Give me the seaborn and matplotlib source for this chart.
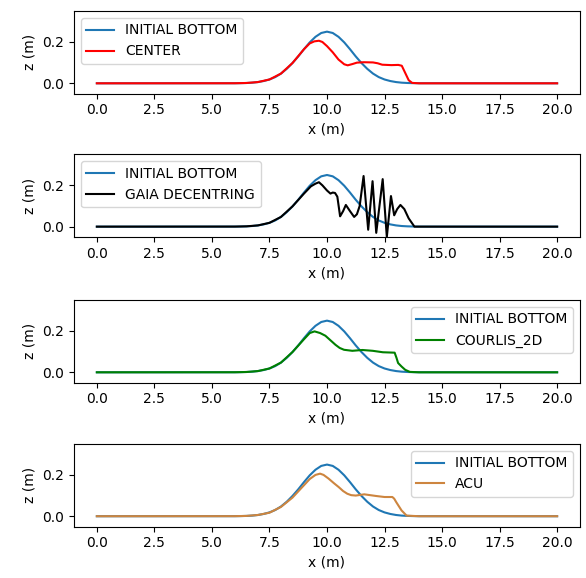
import matplotlib
matplotlib.use("Agg")
import matplotlib.pyplot as plt
import seaborn as sns
import pandas as pd

# Initial bed profile (dune centred at x = 10 m)
bottom_x = [0.0, 6.0, 6.25, 6.5, 6.75, 7.0, 7.25, 7.5, 7.75, 8.0, 8.25, 8.5, 8.75,
            9.0, 9.25, 9.5, 9.75, 10.0, 10.25, 10.5, 10.75, 11.0, 11.25, 11.5,
            11.75, 12.0, 12.25, 12.5, 12.75, 13.0, 13.25, 13.5, 13.75, 14.0, 20.0]
bottom_z = [0.0, 0.0003, 0.0007, 0.0015, 0.003, 0.006, 0.011, 0.0185, 0.030, 0.047,
            0.070, 0.098, 0.130, 0.165, 0.198, 0.225, 0.2435, 0.25, 0.2435, 0.225,
            0.198, 0.165, 0.130, 0.098, 0.070, 0.047, 0.030, 0.0185, 0.011, 0.006,
            0.003, 0.0015, 0.0007, 0.0003, 0.0]

# Final bed, centred scheme
center_x = [0.0, 6.0, 6.5, 7.0, 7.5, 8.0, 8.5, 9.0, 9.25, 9.45, 9.65, 9.8, 10.0,
            10.25, 10.5, 10.75, 10.9, 11.1, 11.3, 11.6, 12.0, 12.2, 12.4, 12.8,
            13.1, 13.25, 13.4, 13.55, 13.7, 14.0, 20.0]
center_z = [0.0, 0.0003, 0.0015, 0.006, 0.0185, 0.047, 0.098, 0.165, 0.193, 0.203,
            0.206, 0.200, 0.180, 0.150, 0.115, 0.092, 0.087, 0.093, 0.100, 0.102,
            0.101, 0.097, 0.090, 0.088, 0.089, 0.085, 0.050, 0.015, 0.002, 0.0, 0.0]

# Final bed, GAIA decentring
gaia_x = [0.0, 6.0, 6.5, 7.0, 7.5, 8.0, 8.5, 9.0, 9.3, 9.5, 9.65, 9.8, 10.0, 10.15,
          10.25, 10.35, 10.45, 10.57, 10.7, 10.82, 11.0, 11.18, 11.3, 11.42, 11.59,
          11.79, 11.98, 12.14, 12.42, 12.6, 12.78, 12.92, 13.05, 13.19, 13.36, 13.55,
          13.8, 14.0, 20.0]
gaia_z = [0.0, 0.0003, 0.0015, 0.006, 0.0185, 0.047, 0.098, 0.160, 0.195, 0.208,
          0.215, 0.200, 0.175, 0.160, 0.165, 0.163, 0.145, 0.050, 0.075, 0.105,
          0.075, 0.047, 0.060, 0.100, 0.245, -0.015, 0.220, -0.030, 0.230, -0.050,
          0.148, 0.055, 0.085, 0.105, 0.085, 0.040, 0.0, 0.0, 0.0]

# Final bed, COURLIS 2D
courlis_x = [0.0, 6.0, 6.5, 7.0, 7.5, 8.0, 8.5, 9.0, 9.25, 9.46, 9.7, 9.93, 10.15,
             10.37, 10.55, 10.74, 11.1, 11.54, 11.99, 12.43, 12.94, 13.02, 13.09,
             13.24, 13.4, 13.6, 14.0, 20.0]
courlis_z = [0.0, 0.0003, 0.0015, 0.006, 0.0185, 0.047, 0.098, 0.160, 0.190, 0.198,
             0.190, 0.177, 0.155, 0.133, 0.118, 0.109, 0.104, 0.108, 0.104, 0.097,
             0.095, 0.070, 0.045, 0.028, 0.012, 0.002, 0.0, 0.0]

# Final bed, ACU
acu_x = [0.0, 6.0, 6.5, 7.0, 7.5, 8.0, 8.5, 9.0, 9.25, 9.5, 9.7, 9.85, 10.07, 10.3,
         10.51, 10.7, 10.88, 11.05, 11.25, 11.62, 12.13, 12.5, 12.84, 12.92, 13.01,
         13.24, 13.46, 14.0, 20.0]
acu_z = [0.0, 0.0003, 0.0015, 0.006, 0.017, 0.045, 0.090, 0.150, 0.180, 0.200, 0.206,
         0.200, 0.182, 0.160, 0.141, 0.122, 0.109, 0.102, 0.100, 0.106, 0.098, 0.093,
         0.093, 0.085, 0.068, 0.028, 0.003, 0.0, 0.0]

runs = [
    ("CENTER", center_x, center_z, "red", "upper left"),
    ("GAIA DECENTRING", gaia_x, gaia_z, "black", "upper left"),
    ("COURLIS_2D", courlis_x, courlis_z, "green", "upper right"),
    ("ACU", acu_x, acu_z, "peru", "upper right"),
]

fig = plt.figure(figsize=(5.86, 5.78), dpi=100)
left, width, height = 0.126, 0.864, 0.143
bottoms = [0.838, 0.590, 0.338, 0.089]

bottom_df = pd.DataFrame({"x": bottom_x, "z": bottom_z})

for (name, xs, zs, color, loc), b in zip(runs, bottoms):
    ax = fig.add_axes([left, b, width, height])
    sns.lineplot(data=bottom_df, x="x", y="z", ax=ax, color="#1f77b4",
                 linewidth=1.5, label="INITIAL BOTTOM", estimator=None)
    run_df = pd.DataFrame({"x": xs, "z": zs})
    sns.lineplot(data=run_df, x="x", y="z", ax=ax, color=color,
                 linewidth=1.5, label=name, estimator=None)
    ax.set_ylim(-0.05, 0.35)
    ax.set_yticks([0.0, 0.2])
    ax.set_xlim(-1.0, 21.0)
    ax.set_xticks([0.0, 2.5, 5.0, 7.5, 10.0, 12.5, 15.0, 17.5, 20.0])
    ax.set_xlabel("x (m)")
    ax.set_ylabel("z (m)")
    ax.legend(loc=loc, fontsize=10)

fig.savefig("out.png", dpi=100)
